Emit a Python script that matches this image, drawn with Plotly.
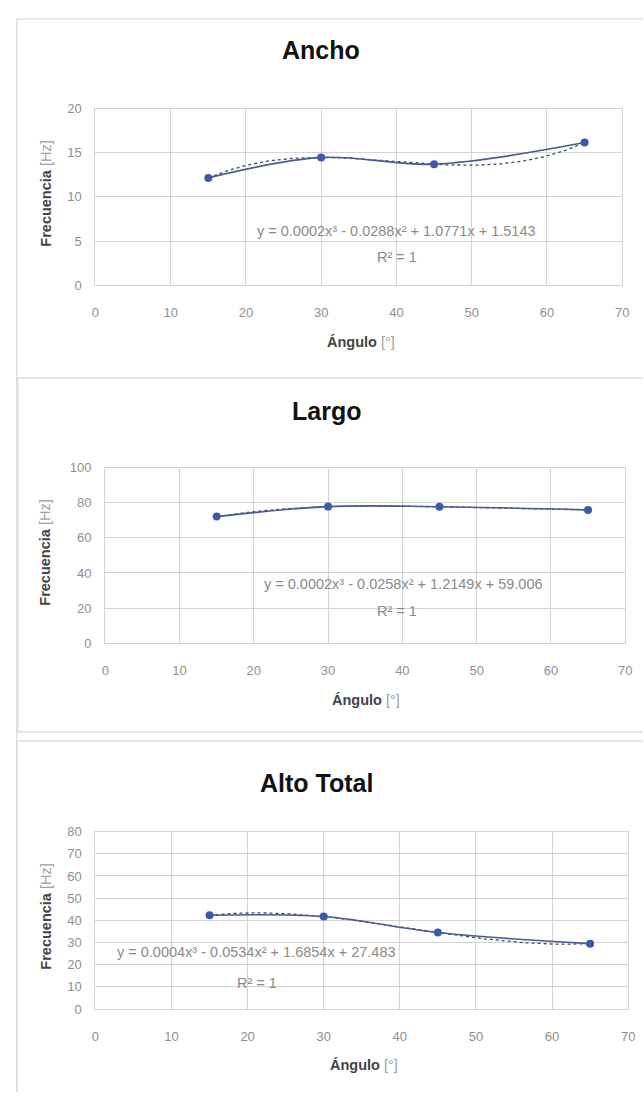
import numpy as np
import plotly.graph_objects as go

W, H = 644, 1097

# Measured natural frequencies versus inclination angle
angulo = [15, 30, 45, 65]
ancho_hz = [12.15, 14.47, 13.70, 16.15]
largo_hz = [72.1, 77.8, 77.7, 75.9]
alto_hz = [42.3, 41.7, 34.5, 29.5]

titulos = ["Ancho", "Largo", "Alto Total"]
ecuaciones = [
    "y = 0.0002x³ - 0.0288x² + 1.0771x + 1.5143",
    "y = 0.0002x³ - 0.0258x² + 1.2149x + 59.006",
    "y = 0.0004x³ - 0.0534x² + 1.6854x + 27.483",
]
r2_txt = "R² = 1"
x_ticks = [0, 10, 20, 30, 40, 50, 60, 70]
y_ticks = [
    [0, 5, 10, 15, 20],
    [0, 20, 40, 60, 80, 100],
    [0, 10, 20, 30, 40, 50, 60, 70, 80],
]
series = [ancho_hz, largo_hz, alto_hz]

# Pixel layout of each chart block (left, right, top, bottom of plot area)
boxes = [
    (93, 629, 103, 282),
    (103, 632, 467, 645),
    (93, 635, 836, 1016),
]
title_pos = [(322, 44), (328, 410), (318, 787)]
eq_pos = [(399, 227), (406, 585), (257, 958)]
r2_pos = [(400, 253), (400, 612), (257, 990)]
ytitle_pos = [(43, 189), (42, 553), (43, 922)]
xtitle_pos = [(363, 340), (368, 703), (366, 1073)]
# Chart-area frames: (left, top, bottom or None)
frames = [(13, 12, None), (14, 376, 735), (13, 744, None)]


def px(x):
    return x / W


def py(y):
    return 1 - y / H


LINE = "#4b5b8c"
MARK = "#3a5ca8"
TREND = "#3d4866"
GRID = "#d4d4d4"
TICK = "#8f8f8f"
FONT = "Liberation Sans"

fig = go.Figure()
annotations = []
shapes = []

for i in range(3):
    xa = "x" if i == 0 else f"x{i + 1}"
    ya = "y" if i == 0 else f"y{i + 1}"
    vals = series[i]

    # Cubic trendline fitted to the measured points
    coef = np.polyfit(angulo, vals, 3)
    xs = np.linspace(angulo[0], angulo[-1], 200)
    fig.add_trace(go.Scatter(
        x=xs, y=np.polyval(coef, xs), mode="lines",
        line=dict(color=TREND, width=1.3, dash="dot"),
        xaxis=xa, yaxis=ya, hoverinfo="skip", showlegend=False,
    ))
    fig.add_trace(go.Scatter(
        x=angulo, y=vals, mode="lines+markers",
        line=dict(color=LINE, width=1.6, shape="spline", smoothing=1.0),
        marker=dict(color=MARK, size=8),
        xaxis=xa, yaxis=ya, showlegend=False,
    ))

    x0, x1, yt, yb = boxes[i]
    axis_common = dict(
        showgrid=True, gridcolor=GRID, gridwidth=1.2,
        showline=True, linecolor=GRID, linewidth=1.2, mirror=True,
        zeroline=False, ticks="",
        tickfont=dict(family=FONT, size=13, color=TICK),
    )
    fig.layout[f"xaxis{'' if i == 0 else i + 1}"] = dict(
        domain=[px(x0), px(x1)], anchor=ya, range=[0, 70],
        tickvals=x_ticks, ticklabelstandoff=15, **axis_common,
    )
    yr = y_ticks[i]
    fig.layout[f"yaxis{'' if i == 0 else i + 1}"] = dict(
        domain=[py(yb), py(yt)], anchor=xa, range=[yr[0], yr[-1]],
        tickvals=yr, ticklabelstandoff=10, **axis_common,
    )

    annotations.append(dict(
        text=f"<b>{titulos[i]}</b>", x=px(title_pos[i][0]), y=py(title_pos[i][1]),
        xref="paper", yref="paper", showarrow=False, xanchor="center", yanchor="middle",
        font=dict(family=FONT, size=25, color="#111111"),
    ))
    annotations.append(dict(
        text=ecuaciones[i], x=px(eq_pos[i][0]), y=py(eq_pos[i][1]),
        xref="paper", yref="paper", showarrow=False, xanchor="center", yanchor="middle",
        font=dict(family=FONT, size=14.5, color="#8a8a8a"),
    ))
    annotations.append(dict(
        text=r2_txt, x=px(r2_pos[i][0]), y=py(r2_pos[i][1]),
        xref="paper", yref="paper", showarrow=False, xanchor="center", yanchor="middle",
        font=dict(family=FONT, size=14.5, color="#8a8a8a"),
    ))
    annotations.append(dict(
        text="<b>Frecuencia</b> <span style='color:#a0a0a0'>[Hz]</span>",
        x=px(ytitle_pos[i][0]), y=py(ytitle_pos[i][1]), textangle=-90,
        xref="paper", yref="paper", showarrow=False, xanchor="center", yanchor="middle",
        font=dict(family=FONT, size=14.5, color="#444444"),
    ))
    annotations.append(dict(
        text="<b>Ángulo</b> <span style='color:#a0a0a0'>[°]</span>",
        x=px(xtitle_pos[i][0]), y=py(xtitle_pos[i][1]),
        xref="paper", yref="paper", showarrow=False, xanchor="center", yanchor="middle",
        font=dict(family=FONT, size=14.5, color="#444444"),
    ))

    fl, ft, fb = frames[i]
    if fb is None:
        path = f"M {px(fl)},{py(1100)} L {px(fl)},{py(ft)} L {px(650)},{py(ft)}"
    else:
        path = (f"M {px(650)},{py(fb)} L {px(fl)},{py(fb)} L {px(fl)},{py(ft)} "
                f"L {px(650)},{py(ft)}")
    shapes.append(dict(type="path", path=path, xref="paper", yref="paper",
                       line=dict(color="#d9d9d9", width=1.2)))

fig.update_layout(
    width=W, height=H,
    margin=dict(l=0, r=0, t=0, b=0),
    paper_bgcolor="white", plot_bgcolor="white",
    annotations=annotations, shapes=shapes,
    showlegend=False,
)

fig.write_html("out.html")
